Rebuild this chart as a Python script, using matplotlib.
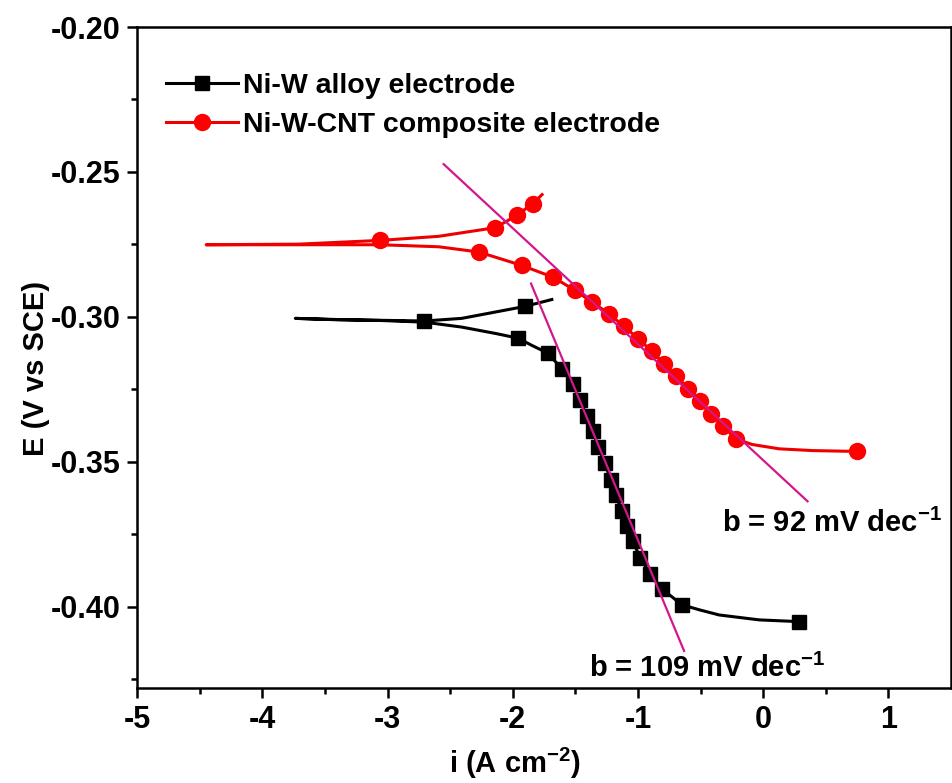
import matplotlib as mpl
import matplotlib.pyplot as plt

mpl.rcParams['font.family'] = 'Liberation Sans'
mpl.rcParams['font.weight'] = 'bold'
mpl.rcParams['axes.labelweight'] = 'bold'
mpl.rcParams['axes.unicode_minus'] = False
mpl.rcParams['mathtext.fontset'] = 'custom'
mpl.rcParams['mathtext.rm'] = 'Liberation Sans:bold'
mpl.rcParams['mathtext.bf'] = 'Liberation Sans:bold'
mpl.rcParams['mathtext.default'] = 'rm'

# Ni-W alloy: log i vs E, cathodic end -> anodic end
niw_logi = [0.288, -0.032, -0.352, -0.512, -0.648, -0.810, -0.904, -0.984, -1.040,
            -1.090, -1.130, -1.178, -1.218, -1.264, -1.320, -1.360, -1.410, -1.466,
            -1.520, -1.610, -1.720, -1.848, -1.960, -2.138, -2.408, -2.706, -3.072,
            -3.392, -3.736, -3.392, -3.000, -2.706, -2.408, -2.138, -1.906, -1.688]
niw_E = [-0.4051, -0.4045, -0.4028, -0.4010, -0.3993, -0.3938, -0.3885, -0.3830, -0.3774,
         -0.3720, -0.3668, -0.3613, -0.3561, -0.3505, -0.3447, -0.3394, -0.3340, -0.3285,
         -0.3233, -0.3178, -0.3125, -0.3098, -0.3073, -0.3057, -0.3035, -0.3018, -0.3012,
         -0.3009, -0.3005, -0.3010, -0.3012, -0.3014, -0.3005, -0.2983, -0.2964, -0.2940]
niw_marks = [0, 4, 5, 6, 7, 8, 9, 10, 11, 12, 13, 14, 15, 16, 17, 18, 19, 20, 22, 31, 34]

# Ni-W-CNT composite
cnt_logi = [0.750, 0.394, 0.128, -0.088, -0.218, -0.320, -0.414, -0.506, -0.600, -0.698,
            -0.792, -0.890, -0.998, -1.112, -1.232, -1.366, -1.504, -1.678, -1.930, -2.272,
            -2.592, -3.058, -3.712, -4.448, -3.712, -3.058, -2.592, -2.138, -1.966, -1.840,
            -1.766]
cnt_E = [-0.3464, -0.3461, -0.3455, -0.3440, -0.3421, -0.3377, -0.3334, -0.3291, -0.3248,
         -0.3204, -0.3162, -0.3118, -0.3075, -0.3033, -0.2989, -0.2949, -0.2908, -0.2863,
         -0.2822, -0.2776, -0.2758, -0.2751, -0.2751, -0.2751, -0.2749, -0.2736, -0.2722,
         -0.2692, -0.2649, -0.2609, -0.2578]
cnt_marks = [0, 4, 5, 6, 7, 8, 9, 10, 11, 12, 13, 14, 15, 16, 17, 18, 19, 25, 27, 28, 29]

# Tafel fit lines
fit92_x = [-2.552, 0.354]
fit92_y = [-0.2473, -0.3636]
fit109_x = [-1.854, -0.632]
fit109_y = [-0.2885, -0.4152]

fig = plt.figure(figsize=(9.53, 7.83), dpi=100)
ax = fig.add_axes([0.1438, 0.1213, 0.8542, 0.8442])

ax.plot(niw_logi, niw_E, color='black', lw=2.2, marker='s', ms=10,
        markevery=niw_marks, label='Ni-W alloy electrode')
ax.plot(cnt_logi, cnt_E, color='#ee0000', lw=2.2, marker='o', ms=11.5, mfc='#ff0000',
        mec='#ff0000', markevery=cnt_marks, label='Ni-W-CNT composite electrode')
ax.plot(fit92_x, fit92_y, color='#d4168c', lw=1.6)
ax.plot(fit109_x, fit109_y, color='#d4168c', lw=1.6)

ax.text(-0.328, -0.3713, r'b = 92 mV dec$^{-1}$', fontsize=21, va='center', ha='left')
ax.text(-1.392, -0.4211, r'b = 109 mV dec$^{-1}$', fontsize=21, va='center', ha='left')

ax.set_xlim(-5, 1.5)
ax.set_ylim(-0.428, -0.20)
ax.set_xticks([-5, -4, -3, -2, -1, 0, 1])
ax.set_xticks([-4.5, -3.5, -2.5, -1.5, -0.5, 0.5], minor=True)
ax.set_yticks([-0.40, -0.35, -0.30, -0.25, -0.20])
ax.set_yticks([-0.425, -0.375, -0.325, -0.275, -0.225], minor=True)
ax.set_yticklabels(['-0.40', '-0.35', '-0.30', '-0.25', '-0.20'])

ax.tick_params(which='major', direction='out', length=7, width=1.8, labelsize=22, pad=5)
ax.tick_params(which='minor', direction='out', length=4, width=1.8)
for s in ax.spines.values():
    s.set_linewidth(1.8)

ax.set_xlabel(r'i (A cm$^{-2}$)', fontsize=21)
ax.set_ylabel('E (V vs SCE)', fontsize=21)
ax.xaxis.set_label_coords(0.464, -0.088)
ax.yaxis.set_label_coords(-0.107, 0.484)

ax.legend(loc='upper left', bbox_to_anchor=(0.036, 0.93), frameon=False, fontsize=20.5,
          handlelength=2.5, handletextpad=0.2, labelspacing=0.45, borderaxespad=0,
          borderpad=0)

fig.savefig('out.png', dpi=100)
